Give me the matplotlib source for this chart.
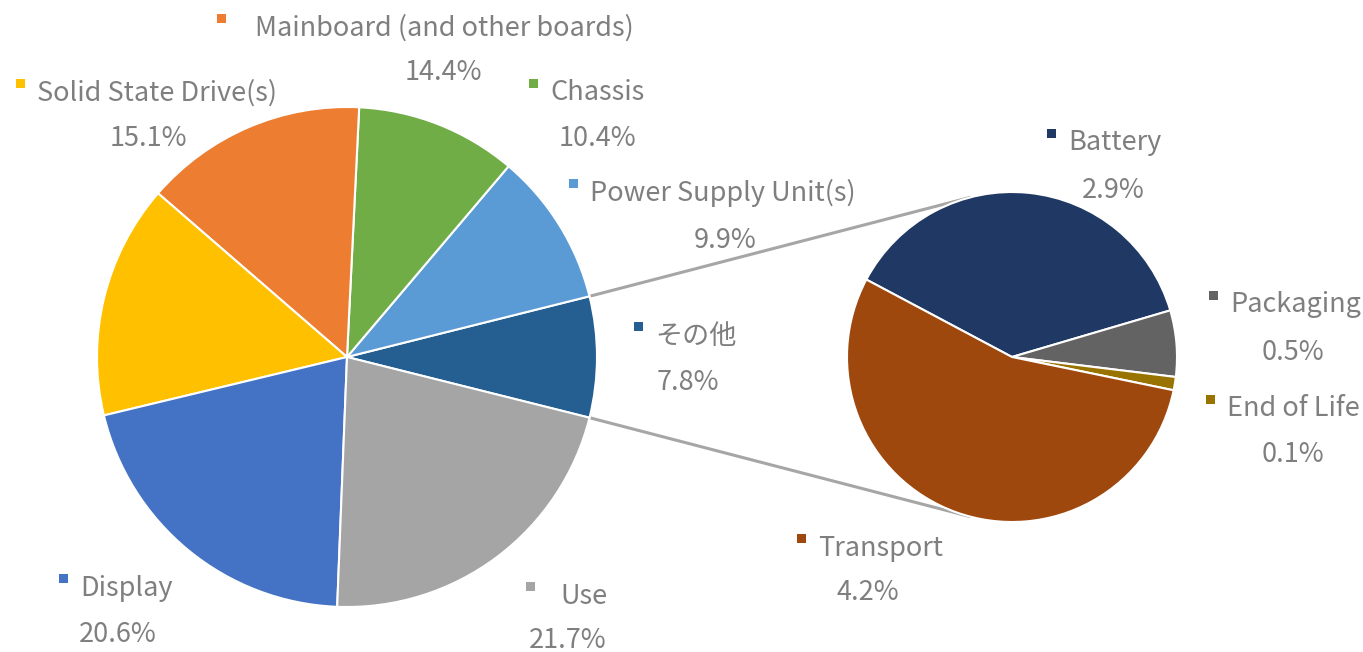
import numpy as np
import matplotlib
matplotlib.use("Agg")
import matplotlib.pyplot as plt

plt.rcParams['font.family'] = ['Noto Sans CJK JP', 'DejaVu Sans']

# Main pie data (counter-clockwise starting with "その他")
main_labels = ["その他", "Power Supply Unit(s)", "Chassis", "Mainboard (and other boards)",
               "Solid State Drive(s)", "Display", "Use"]
main_values = [7.8, 9.9, 10.4, 14.4, 15.1, 20.6, 21.7]
main_colors = ["#255E91", "#5B9BD5", "#70AD47", "#ED7D31", "#FFC000", "#4472C4", "#A5A5A5"]

# Secondary pie data (breakdown of その他, clockwise from Battery)
sub_labels = ["Battery", "Packaging", "End of Life", "Transport"]
sub_values = [2.9, 0.5, 0.1, 4.2]
sub_colors = ["#203864", "#636363", "#997300", "#9E480E"]

W, H = 1363, 652
fig = plt.figure(figsize=(W / 100, H / 100), dpi=100)
ax = fig.add_axes([0, 0, 1, 1])
ax.set_xlim(0, W)
ax.set_ylim(0, H)
ax.set_aspect('equal')
ax.axis('off')

main_c = (347, H - 357)
main_r = 250
sub_c = (1012, H - 357)
sub_r = 165

other_deg = main_values[0] / sum(main_values) * 360
main_start = -other_deg / 2
ax.pie(main_values, colors=main_colors, startangle=main_start, counterclock=True,
       center=main_c, radius=main_r, frame=True,
       wedgeprops=dict(edgecolor='white', linewidth=1.5))

ax.pie(sub_values, colors=sub_colors, startangle=152, counterclock=False,
       center=sub_c, radius=sub_r, frame=True,
       wedgeprops=dict(edgecolor='white', linewidth=1.5))
ax.set_xlim(0, W)
ax.set_ylim(0, H)
ax.axis('off')

# connector lines
for a_main, a_sub in [(main_start + other_deg, 105), (main_start, 255)]:
    p1 = (main_c[0] + main_r * np.cos(np.radians(a_main)), main_c[1] + main_r * np.sin(np.radians(a_main)))
    p2 = (sub_c[0] + sub_r * np.cos(np.radians(a_sub)), sub_c[1] + sub_r * np.sin(np.radians(a_sub)))
    ax.plot([p1[0], p2[0]], [p1[1], p2[1]], color='#A6A6A6', linewidth=2.2, zorder=0)

# label layout: (name_x_left, name_y, pct_x_center, pct_y) in pixels from top-left
label_pos = {
    "Mainboard (and other boards)": (255, 25, 443, 70),
    "Solid State Drive(s)": (37, 90, 148, 135),
    "Chassis": (550, 90, 597, 135),
    "Power Supply Unit(s)": (590, 190, 725, 237),
    "その他": (655, 333, 688, 380),
    "Display": (80, 585, 118, 632),
    "Use": (560, 593, 568, 637),
    "Battery": (1068, 140, 1113, 187),
    "Packaging": (1230, 302, 1293, 349),
    "End of Life": (1227, 406, 1293, 452),
    "Transport": (818, 545, 868, 590),
}
marker_dx = {"Mainboard (and other boards)": 37, "Use": 33}

text_color = '#7F7F7F'
fs = 19.5
yoff = 3

def add_label(name, value, color):
    nx, ny, px, py = label_pos[name]
    ax.text(nx, H - ny - yoff, name, ha='left', va='center', fontsize=fs, color=text_color)
    dx = marker_dx.get(name, 20)
    ax.add_patch(plt.Rectangle((nx - dx - 1, H - ny + 2), 9, 9, color=color, lw=0))
    ax.text(px, H - py - yoff, f"{value:.1f}%", ha='center', va='center', fontsize=fs, color=text_color)

for n, v, c in zip(main_labels, main_values, main_colors):
    add_label(n, v, c)
for n, v, c in zip(sub_labels, sub_values, sub_colors):
    add_label(n, v, c)

fig.savefig("out.png", dpi=100, facecolor='white')
